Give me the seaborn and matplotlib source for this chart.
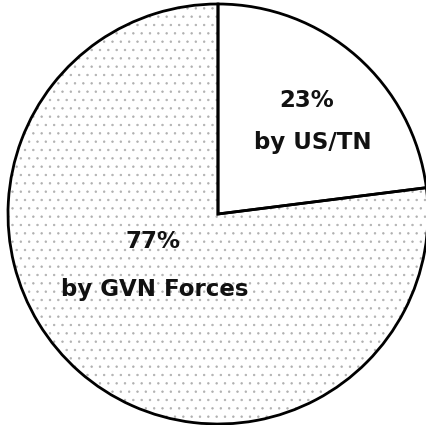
import matplotlib
matplotlib.use("Agg")
import matplotlib.pyplot as plt
import seaborn as sns

# Share of the total, by force
groups = ["US/TN", "GVN Forces"]
shares = [23, 77]

sns.set_theme(style="white")
plt.rcParams["font.family"] = ["DejaVu Sans"]
plt.rcParams["hatch.linewidth"] = 0.5

fig = plt.figure(figsize=(4.27, 4.25), dpi=100)
fig.patch.set_facecolor("white")
ax = fig.add_axes([8 / 427, 1 / 425, 420 / 427, 420 / 425])

# Fill layer: the GVN slice gets a light stipple (hatch takes the edge colour)
fills, _ = ax.pie(
    shares,
    startangle=90,
    counterclock=False,
    colors=["white", "white"],
    wedgeprops=dict(edgecolor="#b0b0b0", linewidth=0),
)
fills[1].set_hatch("..")

# Outline layer
ax.pie(
    shares,
    startangle=90,
    counterclock=False,
    colors=["none", "none"],
    wedgeprops=dict(edgecolor="black", linewidth=2.0, facecolor="none"),
)

# Label positions (data units, pie radius = 1)
pct_pos = [(0.42, 0.54), (-0.31, -0.13)]
name_pos = [(0.45, 0.34), (-0.30, -0.36)]
for share, group, (px, py), (nx, ny) in zip(shares, groups, pct_pos, name_pos):
    ax.text(px, py, f"{share}%", ha="center", va="center",
            fontsize=16.5, fontweight="bold", color="#111111")
    ax.text(nx, ny, f"by {group}", ha="center", va="center",
            fontsize=16.5, fontweight="bold", color="#111111")

ax.set_xlim(-1, 1)
ax.set_ylim(-1, 1)
ax.set_aspect("equal")
ax.axis("off")

fig.savefig("out.png", dpi=100, facecolor="white")
